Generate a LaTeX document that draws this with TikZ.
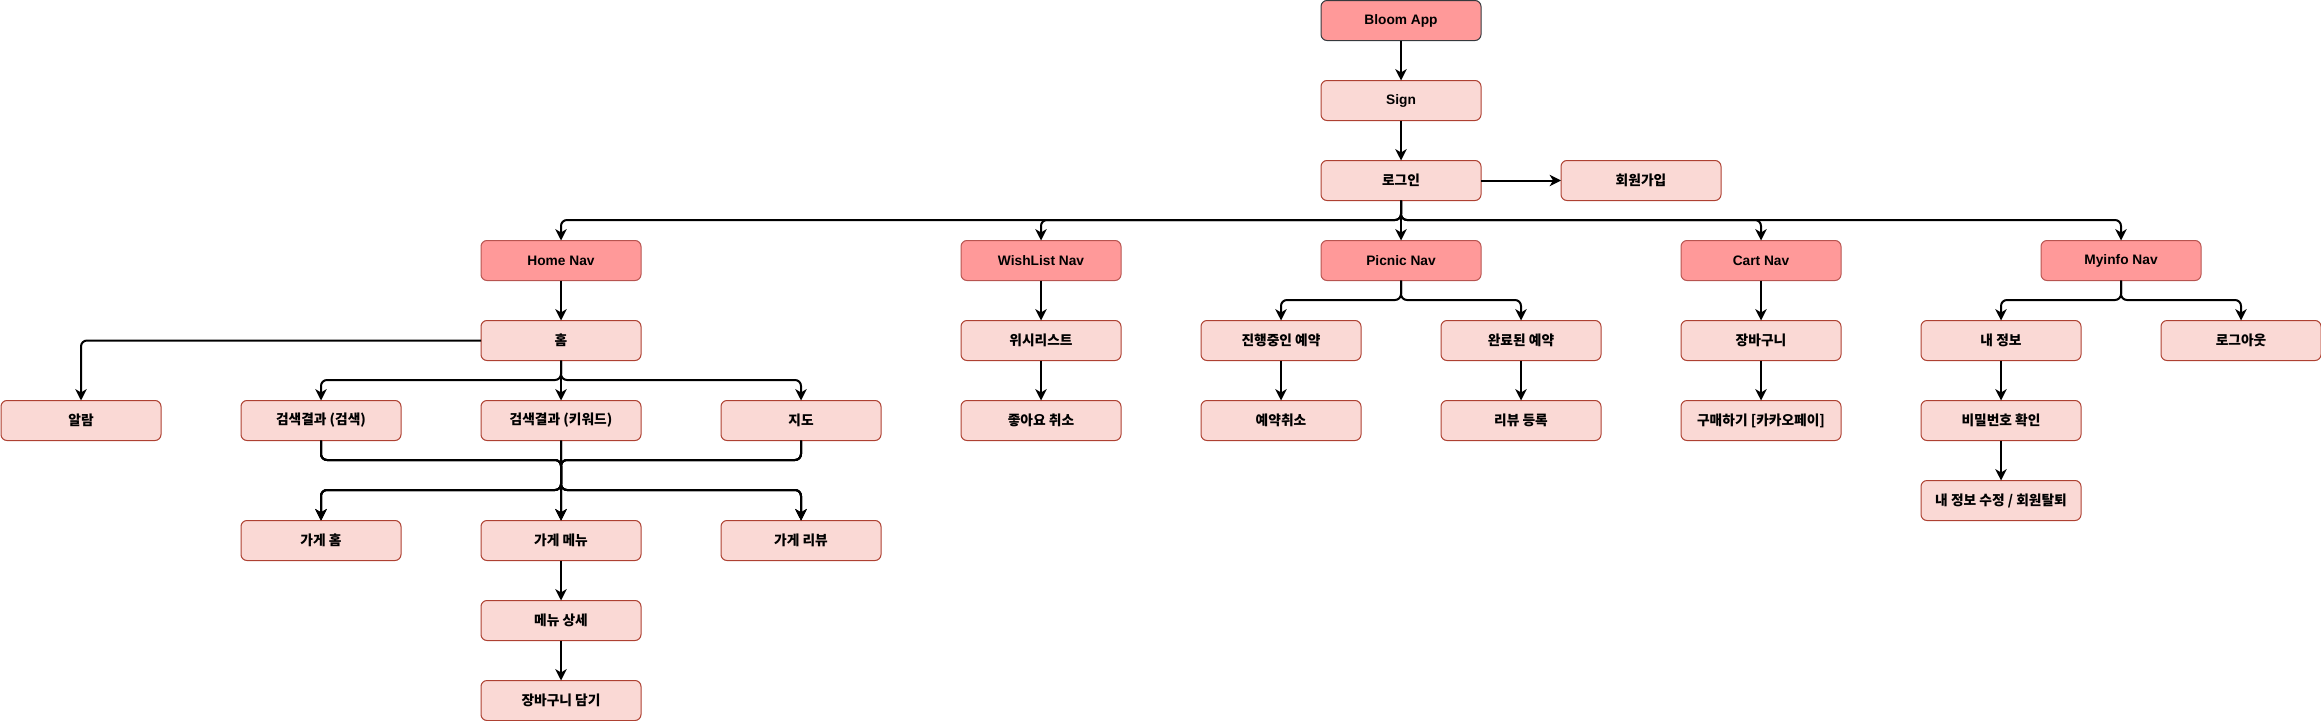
\documentclass[tikz,border=0pt]{standalone}
\usepackage{fontspec}
\setmainfont{Liberation Sans}
\newfontfamily\kr{Noto Sans CJK KR}
\usetikzlibrary{arrows.meta}
\definecolor{navfill}{HTML}{FF9999}
\definecolor{navborder}{HTML}{B85450}
\definecolor{rootborder}{HTML}{36393D}
\definecolor{itemfill}{HTML}{FAD9D5}
\definecolor{itemborder}{HTML}{AE4132}
\newcommand\fs{\fontsize{10.3}{12}\selectfont}
\newcommand\busedge[3]{\draw[link] (#1.south) -- (#1.south |- 0,#3) -| (#2.north);}
\tikzset{
  box/.style={draw, rounded corners=4.5pt, minimum width=120pt, minimum height=30pt,
    outer sep=0pt, inner sep=0pt, line width=0.75pt, font=\fs\bfseries},
  rootbox/.style={box, fill=navfill, draw=rootborder},
  navbox/.style={box, fill=navfill, draw=navborder},
  itembox/.style={box, fill=itemfill, draw=itemborder},
  kor/.style={font=\fs\kr\bfseries},
  link/.style={draw=black, line width=1.5pt, rounded corners=4.5pt,
    -{Stealth[length=8.5pt,width=8.5pt,inset=2.5pt]}}
}
\begin{document}
\begin{tikzpicture}[x=0.75pt,y=-0.75pt]
\useasboundingbox (0,0) rectangle (2321,721);
% row 0-2
\node[rootbox] (root) at (1401,20.5) {Bloom App};
\node[itembox] (sign) at (1401,100.5) {Sign};
\node[itembox,kor] (login) at (1401,180.5) {로그인};
\node[itembox,kor] (signup) at (1641,180.5) {회원가입};
% nav row
\node[navbox] (homenav) at (561,260.5) {Home Nav};
\node[navbox] (wishnav) at (1041,260.5) {WishList Nav};
\node[navbox] (picnicnav) at (1401,260.5) {Picnic Nav};
\node[navbox] (cartnav) at (1761,260.5) {Cart Nav};
\node[navbox] (myinfonav) at (2121,260.5) {Myinfo Nav};
% row 4
\node[itembox,kor] (home) at (561,340.5) {홈};
\node[itembox,kor] (wishlist) at (1041,340.5) {위시리스트};
\node[itembox,kor] (ongoing) at (1281,340.5) {진행중인 예약};
\node[itembox,kor] (done) at (1521,340.5) {완료된 예약};
\node[itembox,kor] (cart) at (1761,340.5) {장바구니};
\node[itembox,kor] (myinfo) at (2001,340.5) {내 정보};
\node[itembox,kor] (logout) at (2241,340.5) {로그아웃};
% row 5
\node[itembox,kor] (alarm) at (81,420.5) {알람};
\node[itembox,kor] (search) at (321,420.5) {검색결과 (검색)};
\node[itembox,kor] (keyword) at (561,420.5) {검색결과 (키워드)};
\node[itembox,kor] (map) at (801,420.5) {지도};
\node[itembox,kor] (unlike) at (1041,420.5) {좋아요 취소};
\node[itembox,kor] (cancel) at (1281,420.5) {예약취소};
\node[itembox,kor] (review) at (1521,420.5) {리뷰 등록};
\node[itembox,kor] (buy) at (1761,420.5) {구매하기 [카카오페이]};
\node[itembox,kor] (pwcheck) at (2001,420.5) {비밀번호 확인};
\node[itembox,kor] (edit) at (2001,500.5) {내 정보 수정 / 회원탈퇴};
% store rows
\node[itembox,kor] (storehome) at (321,540.5) {가게 홈};
\node[itembox,kor] (storemenu) at (561,540.5) {가게 메뉴};
\node[itembox,kor] (storereview) at (801,540.5) {가게 리뷰};
\node[itembox,kor] (menudetail) at (561,620.5) {메뉴 상세};
\node[itembox,kor] (addcart) at (561,700.5) {장바구니 담기};
\coordinate (j1) at (561,460);
\coordinate (j2) at (561,490);
% edges
\draw[link] (root) -- (sign);
\draw[link] (sign) -- (login);
\draw[link] (login) -- (signup);
\draw[link] (login) -- (picnicnav);
\busedge{login}{homenav}{220}
\busedge{login}{wishnav}{220}
\busedge{login}{cartnav}{220}
\busedge{login}{myinfonav}{220}
\draw[link] (homenav) -- (home);
\draw[link] (wishnav) -- (wishlist);
\draw[link] (wishlist) -- (unlike);
\busedge{picnicnav}{ongoing}{300}
\busedge{picnicnav}{done}{300}
\draw[link] (ongoing) -- (cancel);
\draw[link] (done) -- (review);
\draw[link] (cartnav) -- (cart);
\draw[link] (cart) -- (buy);
\busedge{myinfonav}{myinfo}{300}
\busedge{myinfonav}{logout}{300}
\draw[link] (myinfo) -- (pwcheck);
\draw[link] (pwcheck) -- (edit);
\draw[link] (home.west) -| (alarm.north);
\busedge{home}{search}{380}
\busedge{home}{map}{380}
\draw[link] (home) -- (keyword);
% merge from search results to store pages
\draw[link] (search.south) -- (search.south |- j1) -- (j1) -- (j2) -- (j2 -| storehome.north) -- (storehome.north);
\draw[link] (search.south) -- (search.south |- j1) -- (j1) -- (storemenu.north);
\draw[link] (search.south) -- (search.south |- j1) -- (j1) -- (j2) -- (j2 -| storereview.north) -- (storereview.north);
\draw[link] (map.south) -- (map.south |- j1) -- (j1) -- (j2) -- (j2 -| storehome.north) -- (storehome.north);
\draw[link] (map.south) -- (map.south |- j1) -- (j1) -- (storemenu.north);
\draw[link] (map.south) -- (map.south |- j1) -- (j1) -- (j2) -- (j2 -| storereview.north) -- (storereview.north);
\draw[link] (keyword.south) -- (j2) -- (j2 -| storehome.north) -- (storehome.north);
\draw[link] (keyword) -- (storemenu);
\draw[link] (keyword.south) -- (j2) -- (j2 -| storereview.north) -- (storereview.north);
\draw[link] (storemenu) -- (menudetail);
\draw[link] (menudetail) -- (addcart);
\end{tikzpicture}
\end{document}
